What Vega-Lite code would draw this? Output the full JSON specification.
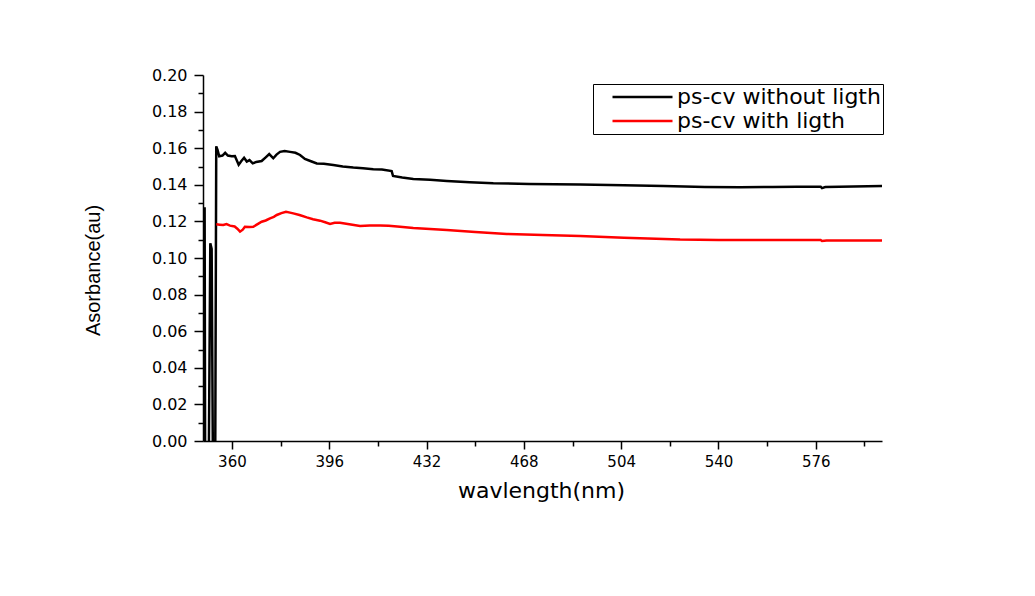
{
  "$schema": "https://vega.github.io/schema/vega-lite/v6.json",
  "width": 679,
  "height": 366,
  "autosize": {"type": "none"},
  "padding": {"left": 203, "top": 75, "right": 153, "bottom": 155},
  "background": "white",
  "config": {"view": {"stroke": null}},
  "data": {"values": [
    {"w": 349.2, "a": 0.127, "s": "ps-cv without ligth"},
    {"w": 349.9, "a": 0.127, "s": "ps-cv without ligth"},
    {"w": 350.1, "a": -0.02, "s": "ps-cv without ligth"},
    {"w": 351.4, "a": -0.02, "s": "ps-cv without ligth"},
    {"w": 352.0, "a": 0.108, "s": "ps-cv without ligth"},
    {"w": 352.5, "a": 0.105, "s": "ps-cv without ligth"},
    {"w": 353.0, "a": -0.02, "s": "ps-cv without ligth"},
    {"w": 353.8, "a": -0.02, "s": "ps-cv without ligth"},
    {"w": 354.2, "a": 0.161, "s": "ps-cv without ligth"},
    {"w": 354.7, "a": 0.159, "s": "ps-cv without ligth"},
    {"w": 355.3, "a": 0.1556, "s": "ps-cv without ligth"},
    {"w": 356.5, "a": 0.156, "s": "ps-cv without ligth"},
    {"w": 357.5, "a": 0.1575, "s": "ps-cv without ligth"},
    {"w": 358.5, "a": 0.156, "s": "ps-cv without ligth"},
    {"w": 359.9, "a": 0.1556, "s": "ps-cv without ligth"},
    {"w": 361.1, "a": 0.1557, "s": "ps-cv without ligth"},
    {"w": 362.5, "a": 0.151, "s": "ps-cv without ligth"},
    {"w": 363.5, "a": 0.153, "s": "ps-cv without ligth"},
    {"w": 364.5, "a": 0.1548, "s": "ps-cv without ligth"},
    {"w": 365.5, "a": 0.1527, "s": "ps-cv without ligth"},
    {"w": 366.5, "a": 0.1535, "s": "ps-cv without ligth"},
    {"w": 367.7, "a": 0.1517, "s": "ps-cv without ligth"},
    {"w": 369.0, "a": 0.1525, "s": "ps-cv without ligth"},
    {"w": 371.0, "a": 0.153, "s": "ps-cv without ligth"},
    {"w": 372.5, "a": 0.155, "s": "ps-cv without ligth"},
    {"w": 373.8, "a": 0.1568, "s": "ps-cv without ligth"},
    {"w": 375.3, "a": 0.1545, "s": "ps-cv without ligth"},
    {"w": 376.5, "a": 0.1565, "s": "ps-cv without ligth"},
    {"w": 377.8, "a": 0.158, "s": "ps-cv without ligth"},
    {"w": 379.5, "a": 0.1585, "s": "ps-cv without ligth"},
    {"w": 381.5, "a": 0.158, "s": "ps-cv without ligth"},
    {"w": 383.5, "a": 0.1575, "s": "ps-cv without ligth"},
    {"w": 385.2, "a": 0.1563, "s": "ps-cv without ligth"},
    {"w": 387.0, "a": 0.1541, "s": "ps-cv without ligth"},
    {"w": 389.0, "a": 0.153, "s": "ps-cv without ligth"},
    {"w": 391.4, "a": 0.1517, "s": "ps-cv without ligth"},
    {"w": 394.0, "a": 0.1515, "s": "ps-cv without ligth"},
    {"w": 397.5, "a": 0.1508, "s": "ps-cv without ligth"},
    {"w": 401.0, "a": 0.15, "s": "ps-cv without ligth"},
    {"w": 404.9, "a": 0.1494, "s": "ps-cv without ligth"},
    {"w": 408.5, "a": 0.149, "s": "ps-cv without ligth"},
    {"w": 412.3, "a": 0.1485, "s": "ps-cv without ligth"},
    {"w": 415.5, "a": 0.1483, "s": "ps-cv without ligth"},
    {"w": 419.1, "a": 0.1475, "s": "ps-cv without ligth"},
    {"w": 419.6, "a": 0.1448, "s": "ps-cv without ligth"},
    {"w": 423.0, "a": 0.144, "s": "ps-cv without ligth"},
    {"w": 427.1, "a": 0.1432, "s": "ps-cv without ligth"},
    {"w": 433.3, "a": 0.1428, "s": "ps-cv without ligth"},
    {"w": 439.5, "a": 0.1421, "s": "ps-cv without ligth"},
    {"w": 448.0, "a": 0.1414, "s": "ps-cv without ligth"},
    {"w": 456.7, "a": 0.1408, "s": "ps-cv without ligth"},
    {"w": 470.0, "a": 0.1405, "s": "ps-cv without ligth"},
    {"w": 488.8, "a": 0.1402, "s": "ps-cv without ligth"},
    {"w": 505.0, "a": 0.1398, "s": "ps-cv without ligth"},
    {"w": 519.6, "a": 0.1393, "s": "ps-cv without ligth"},
    {"w": 535.0, "a": 0.1388, "s": "ps-cv without ligth"},
    {"w": 548.0, "a": 0.1386, "s": "ps-cv without ligth"},
    {"w": 560.0, "a": 0.1388, "s": "ps-cv without ligth"},
    {"w": 569.0, "a": 0.139, "s": "ps-cv without ligth"},
    {"w": 577.8, "a": 0.139, "s": "ps-cv without ligth"},
    {"w": 578.3, "a": 0.1382, "s": "ps-cv without ligth"},
    {"w": 579.5, "a": 0.1388, "s": "ps-cv without ligth"},
    {"w": 590.0, "a": 0.1391, "s": "ps-cv without ligth"},
    {"w": 600.5, "a": 0.1393, "s": "ps-cv without ligth"},
    {"w": 354.2, "a": 0.1184, "s": "ps-cv with ligth"},
    {"w": 355.5, "a": 0.1182, "s": "ps-cv with ligth"},
    {"w": 356.8, "a": 0.118, "s": "ps-cv with ligth"},
    {"w": 358.0, "a": 0.1185, "s": "ps-cv with ligth"},
    {"w": 359.3, "a": 0.1177, "s": "ps-cv with ligth"},
    {"w": 361.0, "a": 0.1172, "s": "ps-cv with ligth"},
    {"w": 362.0, "a": 0.116, "s": "ps-cv with ligth"},
    {"w": 363.0, "a": 0.1144, "s": "ps-cv with ligth"},
    {"w": 364.0, "a": 0.1155, "s": "ps-cv with ligth"},
    {"w": 364.8, "a": 0.1171, "s": "ps-cv with ligth"},
    {"w": 366.5, "a": 0.117, "s": "ps-cv with ligth"},
    {"w": 367.9, "a": 0.1171, "s": "ps-cv with ligth"},
    {"w": 369.5, "a": 0.1185, "s": "ps-cv with ligth"},
    {"w": 371.0, "a": 0.1198, "s": "ps-cv with ligth"},
    {"w": 372.5, "a": 0.1205, "s": "ps-cv with ligth"},
    {"w": 374.1, "a": 0.1217, "s": "ps-cv with ligth"},
    {"w": 375.5, "a": 0.1225, "s": "ps-cv with ligth"},
    {"w": 376.6, "a": 0.1235, "s": "ps-cv with ligth"},
    {"w": 378.3, "a": 0.1245, "s": "ps-cv with ligth"},
    {"w": 380.0, "a": 0.1253, "s": "ps-cv with ligth"},
    {"w": 381.5, "a": 0.1248, "s": "ps-cv with ligth"},
    {"w": 382.7, "a": 0.1244, "s": "ps-cv with ligth"},
    {"w": 385.0, "a": 0.1235, "s": "ps-cv with ligth"},
    {"w": 387.7, "a": 0.1222, "s": "ps-cv with ligth"},
    {"w": 390.0, "a": 0.1212, "s": "ps-cv with ligth"},
    {"w": 392.6, "a": 0.1204, "s": "ps-cv with ligth"},
    {"w": 394.5, "a": 0.1195, "s": "ps-cv with ligth"},
    {"w": 396.3, "a": 0.1186, "s": "ps-cv with ligth"},
    {"w": 398.0, "a": 0.1192, "s": "ps-cv with ligth"},
    {"w": 400.0, "a": 0.1193, "s": "ps-cv with ligth"},
    {"w": 404.0, "a": 0.1183, "s": "ps-cv with ligth"},
    {"w": 407.4, "a": 0.1175, "s": "ps-cv with ligth"},
    {"w": 411.0, "a": 0.1178, "s": "ps-cv with ligth"},
    {"w": 414.8, "a": 0.1177, "s": "ps-cv with ligth"},
    {"w": 418.0, "a": 0.1176, "s": "ps-cv with ligth"},
    {"w": 422.2, "a": 0.1171, "s": "ps-cv with ligth"},
    {"w": 427.1, "a": 0.1164, "s": "ps-cv with ligth"},
    {"w": 433.3, "a": 0.1158, "s": "ps-cv with ligth"},
    {"w": 439.5, "a": 0.1153, "s": "ps-cv with ligth"},
    {"w": 450.0, "a": 0.1142, "s": "ps-cv with ligth"},
    {"w": 461.7, "a": 0.1131, "s": "ps-cv with ligth"},
    {"w": 475.0, "a": 0.1126, "s": "ps-cv with ligth"},
    {"w": 488.8, "a": 0.112, "s": "ps-cv with ligth"},
    {"w": 505.0, "a": 0.1111, "s": "ps-cv with ligth"},
    {"w": 525.8, "a": 0.1101, "s": "ps-cv with ligth"},
    {"w": 540.0, "a": 0.1099, "s": "ps-cv with ligth"},
    {"w": 550.4, "a": 0.1098, "s": "ps-cv with ligth"},
    {"w": 565.0, "a": 0.1098, "s": "ps-cv with ligth"},
    {"w": 577.8, "a": 0.1098, "s": "ps-cv with ligth"},
    {"w": 578.3, "a": 0.1093, "s": "ps-cv with ligth"},
    {"w": 580.0, "a": 0.1096, "s": "ps-cv with ligth"},
    {"w": 590.0, "a": 0.1096, "s": "ps-cv with ligth"},
    {"w": 600.5, "a": 0.1095, "s": "ps-cv with ligth"}
  ]},
  "mark": {"type": "line", "clip": true, "strokeWidth": 2.5, "strokeJoin": "miter"},
  "encoding": {
    "x": {
      "field": "w", "type": "quantitative",
      "scale": {"domain": [349.3, 600.5], "nice": false, "zero": false},
      "axis": {
        "title": "wavlength(nm)",
        "values": [360, 378, 396, 414, 432, 450, 468, 486, 504, 522, 540, 558, 576, 594],
        "labelExpr": "datum.value % 36 === 0 ? datum.label : ''",
        "tickSize": {"condition": {"test": "datum.value % 36 === 0", "value": 8}, "value": 5},
        "grid": false,
        "domainColor": "black", "domainWidth": 1.5,
        "tickColor": "black", "tickWidth": 1.5,
        "labelFont": "DejaVu Sans", "labelFontSize": 15, "labelColor": "black", "labelPadding": 5,
        "titleFont": "DejaVu Sans", "titleFontSize": 22, "titleFontWeight": "normal", "titleColor": "black",
        "titleX": 338, "titleY": 49, "titleBaseline": "middle", "titleAlign": "center"
      }
    },
    "y": {
      "field": "a", "type": "quantitative",
      "scale": {"domain": [0, 0.2], "nice": false},
      "axis": {
        "title": "Asorbance(au)",
        "values": [0, 0.01, 0.02, 0.03, 0.04, 0.05, 0.06, 0.07, 0.08, 0.09, 0.1, 0.11, 0.12, 0.13, 0.14, 0.15, 0.16, 0.17, 0.18, 0.19, 0.2],
        "format": ".2f",
        "labelExpr": "round(datum.value * 100) % 2 === 0 ? datum.label : ''",
        "tickSize": {"condition": {"test": "round(datum.value * 100) % 2 === 0", "value": 9}, "value": 5},
        "grid": false,
        "domainColor": "black", "domainWidth": 1.5,
        "tickColor": "black", "tickWidth": 1.5,
        "labelFont": "DejaVu Sans", "labelFontSize": 16, "labelColor": "black", "labelPadding": 7,
        "titleFont": "Liberation Sans", "titleFontSize": 20, "titleFontWeight": "normal", "titleColor": "black",
        "titleX": -110, "titleY": 195, "titleAngle": -90, "titleBaseline": "middle", "titleAlign": "center"
      }
    },
    "color": {
      "field": "s", "type": "nominal",
      "scale": {"domain": ["ps-cv without ligth", "ps-cv with ligth"], "range": ["black", "#ff0000"]},
      "legend": {
        "title": null,
        "orient": "none", "legendX": 390, "legendY": 9,
        "symbolType": "stroke", "symbolSize": 3600, "symbolStrokeWidth": 2.5,
        "symbolOffset": 16,
        "clipHeight": 22, "rowPadding": 2,
        "labelFont": "DejaVu Sans", "labelFontSize": 22, "labelColor": "black", "labelOffset": 3, "labelLimit": 400,
        "strokeColor": "black", "fillColor": "white", "padding": 2,
        "encode": {"legend": {"update": {"width": {"value": 315}}}}
      }
    }
  }
}
